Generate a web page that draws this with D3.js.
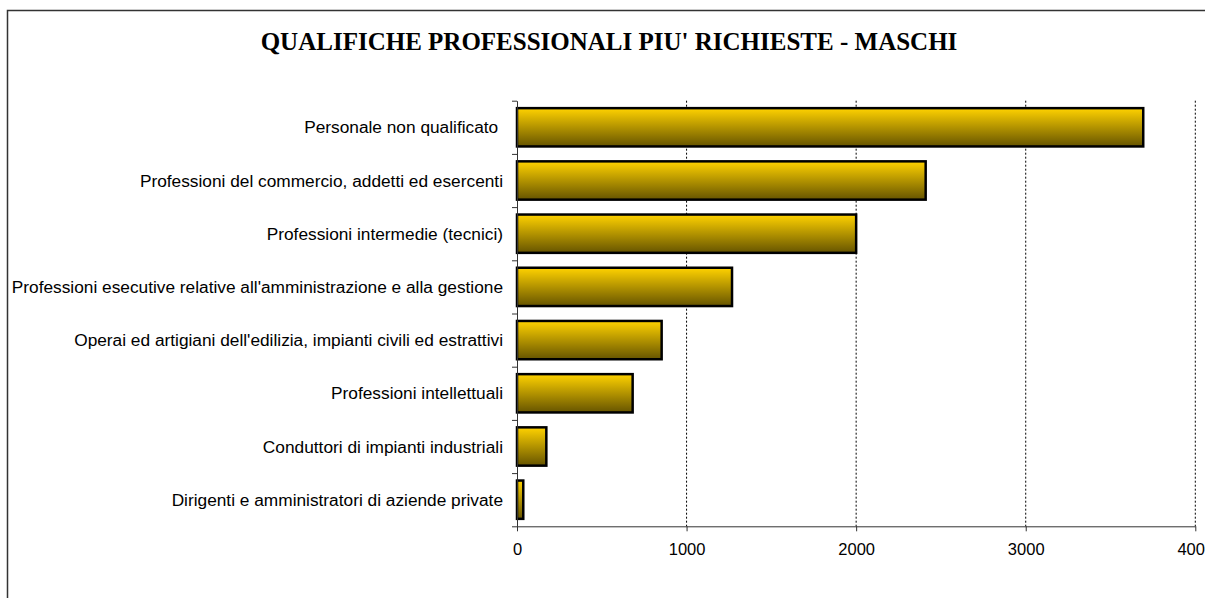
<!DOCTYPE html>
<html>
<head>
<meta charset="utf-8">
<script src="https://cdn.jsdelivr.net/npm/d3@7"></script>
<style>
  html, body { margin: 0; padding: 0; background: #fff; overflow: hidden; }
  svg { display: block; }
  .axis text { font-family: "Liberation Sans", Arial, sans-serif; font-size: 16.5px; fill: #000; }
  .axis path, .axis line { stroke: #333; }
</style>
</head>
<body>
<div class="chart-container"></div>
<script>
var title = "QUALIFICHE PROFESSIONALI PIU' RICHIESTE - MASCHI";
var categories = [
  "Personale non qualificato ",
  "Professioni del commercio, addetti ed esercenti",
  "Professioni intermedie (tecnici)",
  "Professioni esecutive relative all'amministrazione e alla gestione",
  "Operai ed artigiani dell'edilizia, impianti civili ed estrattivi",
  "Professioni intellettuali",
  "Conduttori di impianti industriali",
  "Dirigenti e amministratori di aziende private"
];
var values = [3693, 2410, 2000, 1268, 853, 682, 173, 37];
var xTicks = [0, 1000, 2000, 3000, 4000];

var width = 1205, height = 598;
var margin = {top: 100.7, left: 517, bottom: 71.7};
var plotW = 1195.3 - margin.left;
var plotH = height - margin.top - margin.bottom;

var svg = d3.select(".chart-container").append("svg")
    .attr("width", width)
    .attr("height", height);

// bar gradient
var grad = svg.append("defs").append("linearGradient")
    .attr("id", "barGrad")
    .attr("x1", 0).attr("y1", 0).attr("x2", 0).attr("y2", 1);
grad.append("stop").attr("offset", "0%").attr("stop-color", "#ffd200");
grad.append("stop").attr("offset", "100%").attr("stop-color", "#665400");

// outer frame (runs off the right and bottom edges)
svg.append("rect")
    .attr("x", 7.5).attr("y", 10.5)
    .attr("width", 1300).attr("height", 700)
    .attr("fill", "none")
    .attr("stroke", "#333")
    .attr("stroke-width", 1.5);

svg.append("text")
    .attr("x", 609)
    .attr("y", 50)
    .attr("text-anchor", "middle")
    .style("font-family", "'Liberation Serif', 'Times New Roman', serif")
    .style("font-size", "25px")
    .style("font-weight", "bold")
    .text(title);

var g = svg.append("g").attr("transform", "translate(" + margin.left + "," + margin.top + ")");

var x = d3.scaleLinear().domain([0, 4000]).range([0, plotW]);
var y = d3.scaleBand().domain(categories).range([0, plotH]).paddingInner(0.28).paddingOuter(0.14);
var yIdx = d3.scaleLinear().domain([0, categories.length]).range([0, plotH]);

// grid lines
g.selectAll(".grid")
    .data(xTicks.slice(1))
    .enter().append("line")
    .attr("class", "grid")
    .attr("x1", function(d) { return x(d); })
    .attr("x2", function(d) { return x(d); })
    .attr("y1", 0)
    .attr("y2", plotH)
    .attr("stroke", "#000")
    .attr("stroke-width", 1)
    .attr("stroke-dasharray", "2,2");

// bars
g.selectAll(".bar")
    .data(values)
    .enter().append("rect")
    .attr("class", "bar")
    .attr("x", x(0))
    .attr("y", function(d, i) { return y(categories[i]); })
    .attr("width", function(d) { return x(d) - x(0); })
    .attr("height", y.bandwidth())
    .attr("fill", "url(#barGrad)")
    .attr("stroke", "#000")
    .attr("stroke-width", 2.5);

// y axis with ticks on category boundaries
g.append("g")
    .attr("class", "axis yAxis")
    .call(d3.axisLeft(yIdx).tickValues(d3.range(categories.length + 1)).tickSize(5).tickSizeOuter(0).tickFormat(""));

// category labels
g.selectAll(".cat")
    .data(categories)
    .enter().append("text")
    .attr("class", "cat")
    .attr("x", -14)
    .attr("y", function(d) { return y(d) + y.bandwidth() / 2; })
    .attr("dy", "0.35em")
    .attr("text-anchor", "end")
    .style("font-family", "'Liberation Sans', Arial, sans-serif")
    .style("font-size", "17.3px")
    .style("white-space", "pre")
    .text(function(d) { return d; });

// x axis
g.append("g")
    .attr("class", "axis xAxis")
    .attr("transform", "translate(0," + plotH + ")")
    .call(d3.axisBottom(x).tickValues(xTicks).tickSize(5).tickSizeOuter(0).tickPadding(12).tickFormat(d3.format("d")));
</script>
</body>
</html>
